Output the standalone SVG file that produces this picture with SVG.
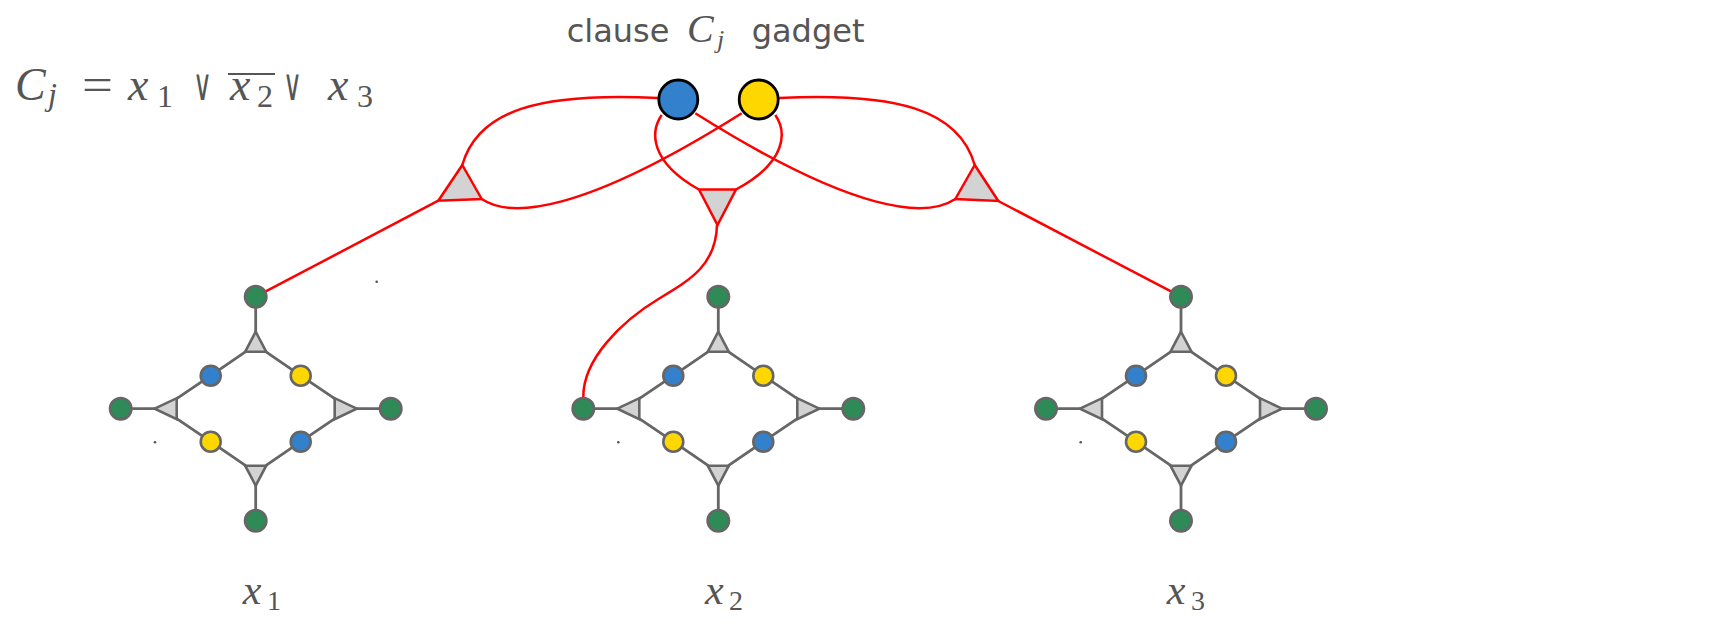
<svg xmlns="http://www.w3.org/2000/svg" width="1727" height="636" viewBox="0 0 1727 636">
<style>
.lbl{fill:#555;font-family:"Liberation Serif","DejaVu Serif",serif;font-style:italic}
.num{fill:#555;font-family:"Liberation Serif","DejaVu Serif",serif;font-style:normal}
.sans{fill:#555;font-family:"DejaVu Sans","Liberation Sans",sans-serif}
.op{fill:#555;font-family:"DejaVu Sans","DejaVu Serif",sans-serif}
.e{stroke:#666;stroke-width:2.8;fill:none}
.tri{fill:#d3d3d3;stroke:#666;stroke-width:2.6;stroke-linejoin:miter}
.g{fill:#2e8b57;stroke:#666;stroke-width:2.6}
.b{fill:#3380cc;stroke:#666;stroke-width:2.6}
.y{fill:#ffd700;stroke:#666;stroke-width:2.6}
.red{stroke:#ff0000;stroke-width:2.5;fill:none}
.rtri{fill:#d3d3d3;stroke:#ff0000;stroke-width:2.5}
.dot{fill:#555}
</style>

<!-- labels -->
<g id="formula">
<text class="lbl" x="15" y="100" font-size="46">C</text>
<text class="lbl" x="48" y="105" font-size="32">j</text>
<text class="num" x="82" y="100" font-size="46" textLength="31" lengthAdjust="spacingAndGlyphs">=</text>
<text class="lbl" x="128" y="100" font-size="46">x</text>
<text class="num" x="157" y="107" font-size="32">1</text>
<text class="op" x="193" y="100" font-size="44" textLength="19" lengthAdjust="spacingAndGlyphs">∨</text>
<line x1="228" y1="74" x2="275" y2="74" stroke="#555" stroke-width="1.8"/>
<text class="lbl" x="230" y="100" font-size="46">x</text>
<text class="num" x="257" y="107" font-size="32">2</text>
<text class="op" x="283" y="100" font-size="44" textLength="19" lengthAdjust="spacingAndGlyphs">∨</text>
<text class="lbl" x="328" y="100" font-size="46">x</text>
<text class="num" x="357" y="107" font-size="32">3</text>
</g>

<g id="title">
<text class="sans" x="566.7" y="42" font-size="32">clause</text>
<text class="lbl" x="687" y="42" font-size="40">C</text>
<text class="lbl" x="717" y="48" font-size="26">j</text>
<text class="sans" x="751.7" y="42" font-size="32">gadget</text>
</g>

<g id="var-labels">
<text class="lbl" x="242.7" y="604" font-size="42">x</text>
<text class="num" x="267" y="610" font-size="28">1</text>
<text class="lbl" x="705" y="604" font-size="42">x</text>
<text class="num" x="729" y="610" font-size="28">2</text>
<text class="lbl" x="1166.7" y="604" font-size="42">x</text>
<text class="num" x="1191" y="610" font-size="28">3</text>
</g>

<!-- connectors -->
<g id="connectors">
<path class="red" d="M438.3,200.7 L255.7,296.7"/>
<path class="red" d="M462.3,165 C478,110 540,92 658.3,98"/>
<path class="red" d="M481.7,199 C510,218 580,215 741.7,113.3"/>
<path class="red" d="M998.3,201 L1181,296.7"/>
<path class="red" d="M974.7,165 C959,110 897,92 778.7,98"/>
<path class="red" d="M955.3,199 C927,218 857,215 695.3,113.3"/>
<path class="red" d="M661.7,115 C650,132 650,162 699,189.5"/>
<path class="red" d="M775.3,115 C787,132 787,162 736,189.5"/>
<path class="red" d="M717,225 C716,265 690,280 660,298 C620,322 583,360 583.3,397"/>
</g>

<!-- clause gadget nodes -->
<g id="clause-tri-left"><polygon class="rtri" points="462.3,165 438.3,200.7 481.7,199"/></g>
<g id="clause-tri-mid"><polygon class="rtri" points="699,189.5 736,189.5 717.5,225"/></g>
<g id="clause-tri-right"><polygon class="rtri" points="974.7,165 955.3,199 998.3,201"/></g>
<g id="clause-blue"><circle cx="678.3" cy="99.5" r="19.5" fill="#3380cc" stroke="#000" stroke-width="2.8"/></g>
<g id="clause-yellow"><circle cx="758.7" cy="99.5" r="19.5" fill="#ffd700" stroke="#000" stroke-width="2.8"/></g>

<!-- variable gadget x1 -->
<g id="gadget-x1" transform="translate(255.7,408.7)">
<g class="edges">
<path class="e" d="M0,-112 V-76 M-10,-57 L-45,-33 M10,-57 L45,-33 M-79,-10 L-45,-33 M-79,10 L-45,33 M-100,0 H-135 M79,-10 L45,-33 M79,10 L45,33 M100,0 H135 M-10,57 L-45,33 M10,57 L45,33 M0,76 V112"/>
</g>
<g id="x1-tri-top"><polygon class="tri" points="0,-77 -10.5,-57 10.5,-57"/></g>
<g id="x1-tri-left"><polygon class="tri" points="-101,0 -79,-10.5 -79,10.5"/></g>
<g id="x1-tri-right"><polygon class="tri" points="101,0 79,-10.5 79,10.5"/></g>
<g id="x1-tri-bottom"><polygon class="tri" points="0,77 -10.5,57 10.5,57"/></g>
<g id="x1-top"><circle class="g" cx="0" cy="-112" r="10.7"/></g>
<g id="x1-left"><circle class="g" cx="-135" cy="0" r="10.7"/></g>
<g id="x1-right"><circle class="g" cx="135" cy="0" r="10.7"/></g>
<g id="x1-bottom"><circle class="g" cx="0" cy="112" r="10.7"/></g>
<g id="x1-b1"><circle class="b" cx="-45" cy="-33" r="10"/></g>
<g id="x1-y1"><circle class="y" cx="45" cy="-33" r="10"/></g>
<g id="x1-y2"><circle class="y" cx="-45" cy="33" r="10"/></g>
<g id="x1-b2"><circle class="b" cx="45" cy="33" r="10"/></g>
</g>

<!-- variable gadget x2 -->
<g id="gadget-x2" transform="translate(718.3,408.7)">
<g class="edges">
<path class="e" d="M0,-112 V-76 M-10,-57 L-45,-33 M10,-57 L45,-33 M-79,-10 L-45,-33 M-79,10 L-45,33 M-100,0 H-135 M79,-10 L45,-33 M79,10 L45,33 M100,0 H135 M-10,57 L-45,33 M10,57 L45,33 M0,76 V112"/>
</g>
<g id="x2-tri-top"><polygon class="tri" points="0,-77 -10.5,-57 10.5,-57"/></g>
<g id="x2-tri-left"><polygon class="tri" points="-101,0 -79,-10.5 -79,10.5"/></g>
<g id="x2-tri-right"><polygon class="tri" points="101,0 79,-10.5 79,10.5"/></g>
<g id="x2-tri-bottom"><polygon class="tri" points="0,77 -10.5,57 10.5,57"/></g>
<g id="x2-top"><circle class="g" cx="0" cy="-112" r="10.7"/></g>
<g id="x2-left"><circle class="g" cx="-135" cy="0" r="10.7"/></g>
<g id="x2-right"><circle class="g" cx="135" cy="0" r="10.7"/></g>
<g id="x2-bottom"><circle class="g" cx="0" cy="112" r="10.7"/></g>
<g id="x2-b1"><circle class="b" cx="-45" cy="-33" r="10"/></g>
<g id="x2-y1"><circle class="y" cx="45" cy="-33" r="10"/></g>
<g id="x2-y2"><circle class="y" cx="-45" cy="33" r="10"/></g>
<g id="x2-b2"><circle class="b" cx="45" cy="33" r="10"/></g>
</g>

<!-- variable gadget x3 -->
<g id="gadget-x3" transform="translate(1181,408.7)">
<g class="edges">
<path class="e" d="M0,-112 V-76 M-10,-57 L-45,-33 M10,-57 L45,-33 M-79,-10 L-45,-33 M-79,10 L-45,33 M-100,0 H-135 M79,-10 L45,-33 M79,10 L45,33 M100,0 H135 M-10,57 L-45,33 M10,57 L45,33 M0,76 V112"/>
</g>
<g id="x3-tri-top"><polygon class="tri" points="0,-77 -10.5,-57 10.5,-57"/></g>
<g id="x3-tri-left"><polygon class="tri" points="-101,0 -79,-10.5 -79,10.5"/></g>
<g id="x3-tri-right"><polygon class="tri" points="101,0 79,-10.5 79,10.5"/></g>
<g id="x3-tri-bottom"><polygon class="tri" points="0,77 -10.5,57 10.5,57"/></g>
<g id="x3-top"><circle class="g" cx="0" cy="-112" r="10.7"/></g>
<g id="x3-left"><circle class="g" cx="-135" cy="0" r="10.7"/></g>
<g id="x3-right"><circle class="g" cx="135" cy="0" r="10.7"/></g>
<g id="x3-bottom"><circle class="g" cx="0" cy="112" r="10.7"/></g>
<g id="x3-b1"><circle class="b" cx="-45" cy="-33" r="10"/></g>
<g id="x3-y1"><circle class="y" cx="45" cy="-33" r="10"/></g>
<g id="x3-y2"><circle class="y" cx="-45" cy="33" r="10"/></g>
<g id="x3-b2"><circle class="b" cx="45" cy="33" r="10"/></g>
</g>

<!-- stray dots -->
<circle class="dot" cx="376.7" cy="281.7" r="1.3"/>
<circle class="dot" cx="155" cy="442.3" r="1.3"/>
<circle class="dot" cx="618.3" cy="442.3" r="1.3"/>
<circle class="dot" cx="1080.7" cy="442.3" r="1.3"/>
</svg>
